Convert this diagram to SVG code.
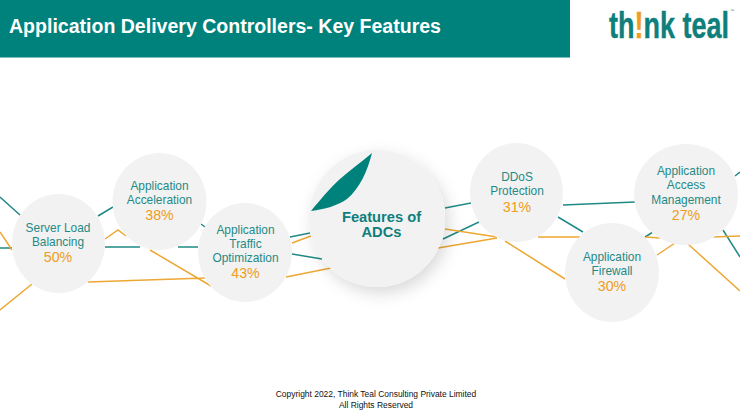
<svg xmlns="http://www.w3.org/2000/svg" width="740" height="412" viewBox="0 0 740 412">
<style>
text{font-family:"Liberation Sans",Arial,sans-serif;text-anchor:middle}
.t{stroke:#1f8a86;stroke-width:1.5;fill:none}
.o{stroke:#eda733;stroke-width:1.5;fill:none}
.n{fill:#f2f2f2}
.l{font-size:11.900px;fill:#1f8a86}
.p{font-size:14.200px;fill:#ee9d1c}
</style>
<defs>
<filter id="sh" x="-30%" y="-30%" width="170%" height="170%"><feDropShadow dx="4" dy="6" stdDeviation="8" flood-color="#000" flood-opacity=".15"/></filter>
</defs>
<rect width="740" height="412" fill="#fff"/>
<g id="banner"><rect width="570" height="57.500" fill="#00827c"/>
<text x="9" y="33" style="text-anchor:start;font-size:19.550px;font-weight:700" fill="#fff">Application Delivery Controllers- Key Features</text></g>
<g id="logo">
<text transform="translate(609 37.500) scale(.75 1)" x="0" y="0" style="text-anchor:start;font-size:36px;font-weight:700;stroke:#0f7f7c;stroke-width:.4" fill="#0f7f7c">th<tspan fill="#ee9d1c" stroke="#ee9d1c">!</tspan>nk teal</text>
<text x="732" y="12" style="font-size:4px" fill="#0f7f7c">™</text>
</g>
<g id="connectors">
<path class="t" d="M0 197L20 215M98 216L113 207M0 248H12M105 247H140M178 247H198M201 224L205 227M290 237L310 233M292 254L322 259M445 208L471 203M443 239L479 222M563 205L635 202M558 217L583 232M645 237L653 232M735 176L740 172M723 230L740 257"/>
<path class="o" d="M0 232L12 250M105 239L118 230L126 236M150 250L211 286M88 282L205 278M0 310L32 284M292 243L311 236M286 277L331 268M445 229L497 237M438 248L497 238M505 241L565 279M538 237H580M646 237L660 238M657 255L675 243M688 244L740 291M713 237L740 236"/>
</g>
<g id="server-load"><ellipse class="n" cx="58.500" cy="243.500" rx="46.500" ry="49.500"/>
<text class="l" x="58" y="232">Server Load</text><text class="l" x="58" y="245.500">Balancing</text><text class="p" x="58" y="262">50%</text></g>
<g id="acceleration"><ellipse class="n" cx="159.500" cy="201.500" rx="47" ry="48.500"/>
<text class="l" x="159.500" y="190">Application</text><text class="l" x="159.500" y="203.500">Acceleration</text><text class="p" x="159.500" y="220">38%</text></g>
<g id="traffic"><ellipse class="n" cx="245" cy="252.500" rx="47" ry="49.500"/>
<text class="l" x="245.500" y="234">Application</text><text class="l" x="245.500" y="247.500">Traffic</text><text class="l" x="245.500" y="262">Optimization</text><text class="p" x="245.500" y="278">43%</text></g>
<g id="center"><ellipse class="n" cx="377" cy="218.500" rx="68" ry="68.500" filter="url(#sh)"/>
<path d="M372 153C360 163 349 171 340 179C330 188 320 200 311 211C325 209 337 206 347 199C360 188 367 172 372 153Z" fill="#00827c"/>
<text x="381.500" y="222" style="font-size:14.700px;font-weight:700" fill="#0f7f7c">Features of</text><text x="381.500" y="237" style="font-size:14.700px;font-weight:700" fill="#0f7f7c">ADCs</text></g>
<g id="ddos"><ellipse class="n" cx="516.500" cy="192.500" rx="46.500" ry="49.500"/>
<text class="l" x="517" y="181">DDoS</text><text class="l" x="517" y="195">Protection</text><text class="p" x="517" y="212">31%</text></g>
<g id="firewall"><ellipse class="n" cx="612" cy="272.500" rx="47" ry="49.500"/>
<text class="l" x="612" y="261">Application</text><text class="l" x="612" y="274.500">Firewall</text><text class="p" x="612" y="291">30%</text></g>
<g id="access"><ellipse class="n" cx="686" cy="194.500" rx="52" ry="50.500"/>
<text class="l" x="686" y="175">Application</text><text class="l" x="686" y="189">Access</text><text class="l" x="686" y="203.500">Management</text><text class="p" x="686" y="219.500">27%</text></g>
<g id="footer"><text x="376" y="397" style="font-size:8.450px" fill="#111">Copyright 2022, Think Teal Consulting Private Limited</text><text x="376" y="408" style="font-size:8.450px" fill="#111">All Rights Reserved</text></g>
</svg>
